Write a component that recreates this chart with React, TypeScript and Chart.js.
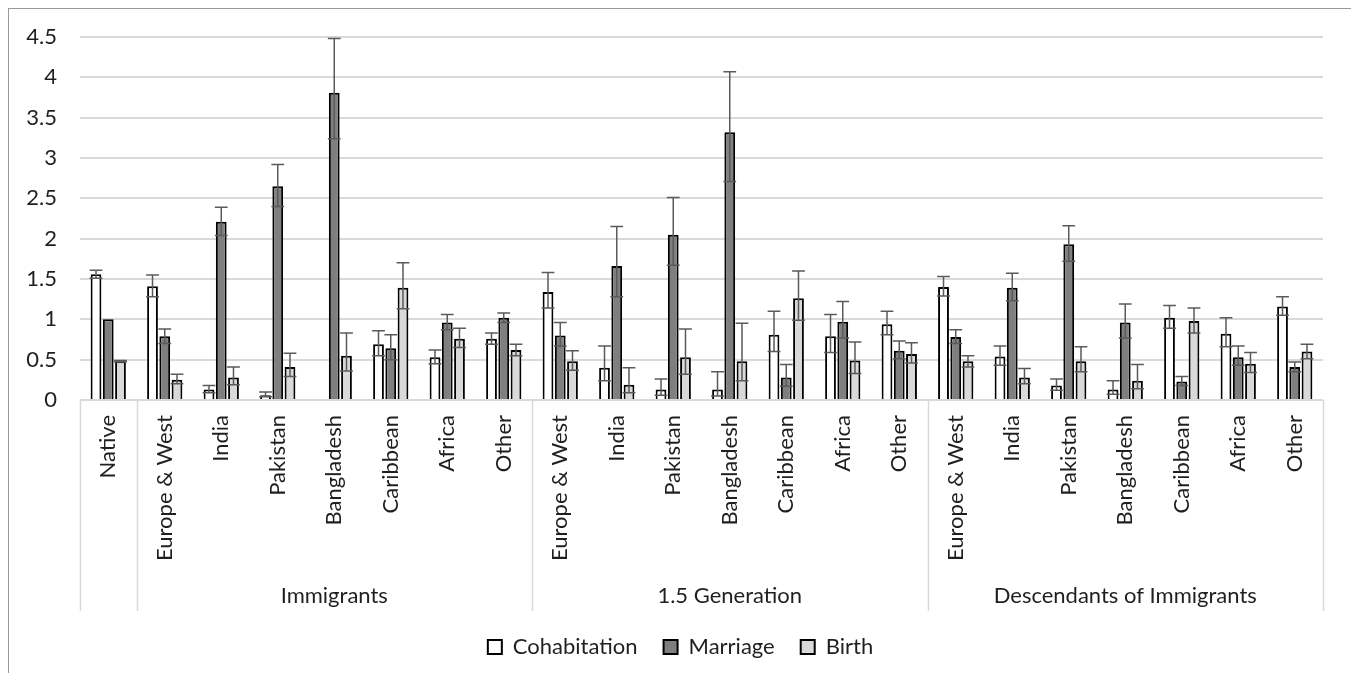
import React, { useEffect, useRef } from 'react';
import { Chart, registerables } from 'chart.js';

Chart.register(...registerables);

// ---------- data ----------
const categories = [
  'Native',
  'Europe & West', 'India', 'Pakistan', 'Bangladesh', 'Caribbean', 'Africa', 'Other',
  'Europe & West', 'India', 'Pakistan', 'Bangladesh', 'Caribbean', 'Africa', 'Other',
  'Europe & West', 'India', 'Pakistan', 'Bangladesh', 'Caribbean', 'Africa', 'Other',
];
const groupNames = ['', 'Immigrants', '1.5 Generation', 'Descendants of Immigrants'];
const groupSizes = [1, 7, 7, 7];
const seriesNames = ['Cohabitation', 'Marriage', 'Birth'];

const cohabitation = [1.56, 1.41, 0.13, 0.06, 0, 0.69, 0.53, 0.76, 1.34, 0.40, 0.13, 0.13, 0.81, 0.79, 0.94, 1.40, 0.54, 0.18, 0.13, 1.02, 0.82, 1.16];
const marriage = [1.00, 0.79, 2.21, 2.65, 3.81, 0.64, 0.96, 1.02, 0.80, 1.66, 2.05, 3.32, 0.28, 0.97, 0.61, 0.78, 1.39, 1.93, 0.96, 0.23, 0.53, 0.41];
const birth = [0.48, 0.25, 0.28, 0.41, 0.55, 1.39, 0.76, 0.62, 0.48, 0.19, 0.53, 0.48, 1.26, 0.49, 0.57, 0.48, 0.28, 0.48, 0.24, 0.98, 0.45, 0.60];

const cohabitationHigh = [1.61, 1.55, 0.18, 0.10, null, 0.86, 0.62, 0.83, 1.58, 0.67, 0.26, 0.35, 1.10, 1.06, 1.10, 1.53, 0.67, 0.26, 0.24, 1.17, 1.02, 1.28];
const cohabitationLow = [1.51, 1.28, 0.09, 0.04, null, 0.55, 0.45, 0.69, 1.14, 0.24, 0.06, 0.05, 0.60, 0.59, 0.81, 1.29, 0.43, 0.12, 0.07, 0.89, 0.66, 1.05];
const marriageHigh = [null, 0.88, 2.39, 2.92, 4.48, 0.81, 1.06, 1.08, 0.96, 2.15, 2.51, 4.07, 0.44, 1.22, 0.73, 0.87, 1.57, 2.16, 1.19, 0.29, 0.67, 0.47];
const marriageLow = [null, 0.70, 2.04, 2.40, 3.24, 0.50, 0.87, 0.96, 0.67, 1.28, 1.67, 2.71, 0.17, 0.77, 0.51, 0.70, 1.23, 1.72, 0.77, 0.18, 0.43, 0.35];
const birthHigh = [0.49, 0.32, 0.41, 0.58, 0.83, 1.70, 0.89, 0.69, 0.61, 0.40, 0.88, 0.95, 1.60, 0.72, 0.71, 0.55, 0.39, 0.66, 0.44, 1.14, 0.59, 0.69];
const birthLow = [0.47, 0.20, 0.19, 0.29, 0.36, 1.13, 0.65, 0.55, 0.37, 0.09, 0.32, 0.24, 0.99, 0.33, 0.46, 0.41, 0.20, 0.35, 0.14, 0.83, 0.34, 0.51];

const yMin = 0;
const yMax = 4.5;
const yStep = 0.5;

// ---------- styling ----------
const FONT = 'Lato, "Open Sans", "DejaVu Sans", sans-serif';
const TEXT = '#1f1f1f';
const GRID = '#d9d9d9';
const fills = ['#ffffff', '#7f7f7f', '#d9d9d9'];
const highs = [cohabitationHigh, marriageHigh, birthHigh];
const lows = [cohabitationLow, marriageLow, birthLow];
const values = [cohabitation, marriage, birth];

const errorBarPlugin = {
  id: 'errorBars',
  afterDatasetsDraw(chart: any) {
    const ctx = chart.ctx;
    const y = chart.scales.y;
    chart.data.datasets.forEach((_ds: any, di: number) => {
      const meta = chart.getDatasetMeta(di);
      meta.data.forEach((bar: any, i: number) => {
        const hi = highs[di][i];
        const lo = lows[di][i];
        if (hi == null || lo == null) return;
        const x = bar.x;
        const half = bar.width / 2 + 1;
        const yH = y.getPixelForValue(hi);
        const yL = y.getPixelForValue(lo);
        ctx.save();
        ctx.strokeStyle = '#5a5a5a';
        ctx.lineWidth = 1.5;
        ctx.beginPath();
        ctx.moveTo(x, yH);
        ctx.lineTo(x, yL);
        ctx.moveTo(x - half, yH);
        ctx.lineTo(x + half, yH);
        ctx.moveTo(x - half, yL);
        ctx.lineTo(x + half, yL);
        ctx.stroke();
        ctx.restore();
      });
    });
  },
};

const groupPlugin = {
  id: 'groupLabels',
  afterDraw(chart: any) {
    const { ctx, chartArea } = chart;
    const x = chart.scales.x;
    const n = categories.length;
    const step = (x.right - x.left) / n;
    const edge = (b: number) =>
      b >= n ? x.getPixelForValue(n - 1) + step / 2 : x.getPixelForValue(b) - step / 2;
    const bounds = [0];
    let acc = 0;
    groupSizes.forEach((s) => {
      acc += s;
      bounds.push(acc);
    });
    const top = chartArea.bottom;
    ctx.save();
    ctx.strokeStyle = GRID;
    ctx.lineWidth = 1.5;
    bounds.forEach((b) => {
      const px = Math.round(edge(b)) + 0.5;
      ctx.beginPath();
      ctx.moveTo(px, top);
      ctx.lineTo(px, top + 211);
      ctx.stroke();
    });
    ctx.fillStyle = TEXT;
    ctx.font = `22px ${FONT}`;
    ctx.textAlign = 'center';
    ctx.textBaseline = 'middle';
    groupNames.forEach((g, gi) => {
      if (!g) return;
      const cx = (edge(bounds[gi]) + edge(bounds[gi + 1])) / 2;
      ctx.fillText(g, cx, top + 196);
    });
    ctx.restore();
  },
};

export default function App() {
  const ref = useRef<HTMLCanvasElement>(null);

  useEffect(() => {
    if (!ref.current) return;
    Chart.defaults.font.family = FONT;
    Chart.defaults.color = TEXT;
    const chart = new Chart(ref.current, {
      type: 'bar',
      data: {
        labels: categories,
        datasets: seriesNames.map((name, i) => ({
          label: name,
          data: values[i],
          backgroundColor: fills[i],
          borderColor: '#000000',
          borderWidth: 2,
          categoryPercentage: 0.65,
          barPercentage: 0.88,
        })),
      },
      options: {
        animation: false,
        responsive: false,
        devicePixelRatio: 1,
        layout: { padding: { top: 28, right: 0, bottom: 13, left: 0 } },
        plugins: {
          tooltip: { enabled: false },
          legend: {
            position: 'bottom',
            labels: {
              font: { size: 22, family: FONT },
              color: TEXT,
              boxWidth: 14,
              boxHeight: 14,
              padding: 26,
            },
          },
        },
        scales: {
          x: {
            grid: { display: false, drawTicks: false },
            border: { display: false },
            ticks: {
              autoSkip: false,
              minRotation: 90,
              maxRotation: 90,
              padding: 15,
              font: { size: 22, family: FONT },
              color: TEXT,
            },
            afterFit: (s: any) => {
              s.height = 210;
            },
          },
          y: {
            min: yMin,
            max: yMax,
            grid: {
              color: GRID,
              lineWidth: 2,
              drawTicks: true,
              tickLength: 18,
              tickColor: 'rgba(0,0,0,0)',
            },
            border: { display: false },
            ticks: {
              stepSize: yStep,
              padding: 5,
              font: { size: 22, family: FONT },
              color: TEXT,
              callback: (v: any) => String(Number(v)),
            },
            afterFit: (s: any) => {
              s.width = 71;
            },
          },
          yRight: {
            type: 'linear',
            position: 'right',
            display: true,
            grid: { display: false, drawTicks: false },
            border: { display: false },
            ticks: { display: false },
            afterFit: (s: any) => {
              s.width = 29;
            },
          },
        },
      },
      plugins: [errorBarPlugin, groupPlugin],
    });
    return () => chart.destroy();
  }, []);

  return (
    <div
      style={{
        width: 1345,
        height: 673,
        boxSizing: 'border-box',
        borderTop: '1px solid #9a9a9a',
        borderLeft: '1px solid #9a9a9a',
        borderRight: '1px solid #9a9a9a',
        marginBottom: -8,
        overflow: 'hidden',
        background: '#fff',
      }}
    >
      <canvas ref={ref} width={1343} height={672} style={{ display: 'block' }} />
    </div>
  );
}
